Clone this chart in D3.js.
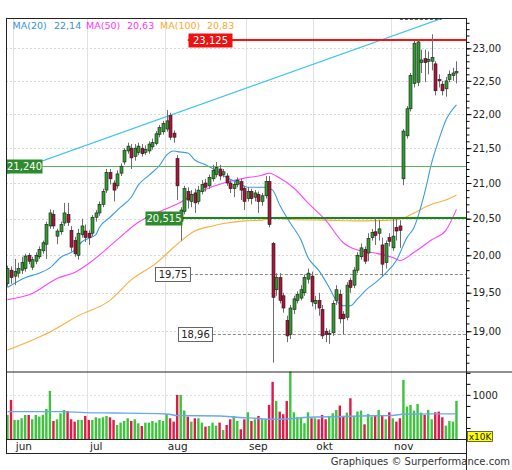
<!DOCTYPE html>
<html><head><meta charset="utf-8">
<script src="https://cdn.jsdelivr.net/npm/d3@7"></script>
<style>body{margin:0;background:#fff}svg{display:block;font-family:"DejaVu Sans",Verdana,sans-serif}</style>
</head><body><svg id="c" width="512" height="470"></svg>
<script>
// ---- data ----
const opens=[19.62,19.80,19.72,19.76,19.80,19.82,20.00,19.84,19.92,19.98,20.06,20.15,20.40,20.56,20.26,20.32,20.44,20.56,20.34,20.20,
20.00,20.28,20.33,20.30,20.30,20.52,20.58,20.70,20.90,21.15,21.00,20.96,21.14,21.30,21.46,21.50,21.38,21.44,21.50,21.44,
21.46,21.52,21.57,21.70,21.74,21.78,21.98,21.72,21.35,20.46,20.60,20.88,20.74,20.86,20.74,20.88,21.00,20.96,21.06,21.12,
21.20,21.12,21.10,21.00,20.92,20.98,21.02,20.92,20.78,20.88,20.80,20.84,20.74,20.82,21.02,20.16,19.54,19.70,19.46,19.14,
18.96,19.28,19.40,19.43,19.50,19.68,19.72,19.36,19.40,19.28,19.00,18.96,18.98,19.40,19.48,19.22,19.18,19.66,19.60,19.80,
19.98,20.08,20.03,20.24,20.32,20.30,20.14,19.90,20.24,20.10,20.38,20.40,21.06,21.68,22.08,22.46,22.48,22.78,22.84,22.80,
22.80,22.76,22.52,22.45,22.38,22.52,22.58,22.62];
const highs=[19.86,19.85,19.95,19.90,19.98,20.02,20.03,19.98,20.04,20.12,20.20,20.46,20.63,20.62,20.36,20.46,20.72,20.72,20.40,20.25,
20.36,20.50,20.42,20.34,20.55,20.62,20.74,20.92,21.20,21.20,21.04,21.18,21.28,21.50,21.58,21.56,21.56,21.58,21.56,21.54,
21.60,21.64,21.75,21.84,21.90,22.06,22.02,21.76,21.40,20.66,20.96,20.94,20.90,20.92,20.96,21.04,21.06,21.12,21.26,21.30,
21.26,21.20,21.14,21.04,21.02,21.08,21.06,20.96,20.94,20.92,20.90,20.88,20.86,21.10,21.10,20.18,19.76,19.76,19.50,19.20,
19.34,19.46,19.52,19.60,19.74,19.82,19.78,19.46,19.50,19.34,19.04,19.02,19.40,19.60,19.54,19.26,19.64,19.70,19.84,20.04,
20.16,20.12,20.30,20.36,20.52,20.48,20.24,20.20,20.30,20.52,20.52,20.48,21.78,22.12,22.62,23.12,23.14,22.98,22.98,22.95,
23.22,22.80,22.60,22.50,22.56,22.66,22.70,22.80];
const lows=[19.58,19.62,19.60,19.70,19.75,19.78,19.88,19.80,19.88,19.95,20.02,19.95,20.36,20.36,20.15,20.28,20.40,20.40,20.05,19.98,
19.94,20.24,20.18,20.14,20.26,20.46,20.54,20.66,20.86,20.98,20.74,20.92,21.10,21.26,21.42,21.20,21.32,21.40,21.38,21.40,
21.42,21.48,21.54,21.66,21.70,21.74,21.62,21.58,20.76,20.20,20.56,20.64,20.66,20.58,20.70,20.84,20.88,20.92,21.02,21.08,
21.04,21.08,20.96,20.86,20.80,20.94,20.76,20.62,20.74,20.70,20.74,20.58,20.68,20.78,20.38,18.60,19.46,19.36,19.24,18.86,
18.90,19.22,19.36,19.40,19.46,19.62,19.32,19.28,19.20,18.90,18.86,18.84,18.94,19.34,19.10,18.96,19.14,19.50,19.56,19.76,
19.94,19.88,19.92,20.20,20.14,20.20,19.72,19.82,20.12,20.06,20.20,20.10,20.97,21.64,22.04,22.40,22.42,22.62,22.48,22.60,
22.66,22.28,22.40,22.28,22.26,22.48,22.50,22.46];
const closes=[19.82,19.70,19.78,19.82,19.90,19.99,19.92,19.94,20.00,20.08,20.17,20.42,20.58,20.40,20.33,20.42,20.58,20.45,20.11,20.02,
20.30,20.40,20.24,20.24,20.52,20.58,20.70,20.88,21.15,21.06,20.90,21.13,21.24,21.47,21.53,21.36,21.50,21.53,21.42,21.48,
21.56,21.58,21.71,21.80,21.86,21.90,21.66,21.66,20.96,20.62,20.92,20.76,20.84,20.72,20.90,20.98,20.94,21.08,21.18,21.22,
21.10,21.16,21.00,20.92,20.98,21.04,20.90,20.74,20.88,20.78,20.86,20.74,20.82,21.02,20.42,19.44,19.70,19.40,19.30,18.94,
19.30,19.42,19.48,19.54,19.70,19.76,19.38,19.40,19.30,18.94,18.96,18.97,19.36,19.54,19.16,19.16,19.60,19.57,19.80,20.00,
20.10,19.92,20.23,20.31,20.27,20.36,19.88,20.16,20.19,20.26,20.33,20.34,21.75,22.08,22.58,23.08,23.10,22.82,22.78,22.83,
22.86,22.35,22.50,22.35,22.50,22.60,22.62,22.64];
const volumes=[545,886,432,432,470,545,545,447,545,508,545,682,1091,409,447,583,659,636,447,394,
432,432,523,432,432,492,470,492,523,492,432,318,371,409,470,409,447,356,295,371,
371,409,371,432,409,561,470,394,1000,1000,644,508,394,470,470,371,280,295,371,303,
371,205,318,447,523,409,220,447,606,409,447,523,447,447,773,1295,864,621,561,864,
1530,606,492,492,356,606,470,470,447,545,447,523,583,659,758,523,598,924,523,621,
644,333,568,508,523,659,523,447,606,470,394,470,1341,735,773,644,795,598,545,659,
447,606,621,492,303,409,394,864];
const ma20=[[0,19.57],[5,19.70],[9,19.76],[12,19.83],[15,19.97],[19,20.07],[21,20.18],[25,20.28],[26,20.38],[29,20.52],[32,20.66],
[35,20.80],[37,20.97],[40,21.11],[43,21.25],[45,21.40],[47,21.46],[48,21.45],[51,21.43],[53,21.33],[56,21.26],[59,21.18],
[62,21.08],[65,21.01],[68,20.94],[71,20.94],[73,20.94],[75,20.90],[77,20.69],[80,20.44],[83,20.21],[85,19.97],[88,19.80],
[91,19.57],[93,19.40],[95,19.33],[97,19.33],[99,19.42],[102,19.56],[104,19.63],[107,19.76],[110,19.93],[113,20.24],
[115,20.38],[118,20.86],[120,21.29],[122,21.62],[124,21.91],[127,22.14]];
const ma50=[[0,19.41],[7,19.49],[14,19.69],[19,19.77],[23,19.89],[31,20.21],[37,20.45],[44,20.62],[49,20.73],[51,20.79],
[57,20.93],[62,21.01],[67,21.07],[72,21.11],[74,21.14],[77,21.07],[81,20.93],[85,20.72],[90,20.48],[95,20.17],[99,20.07],
[104,20.03],[109,19.97],[111,19.93],[115,20.04],[120,20.21],[124,20.34],[127,20.63]];
const ma100=[[0,18.76],[12,18.99],[20,19.20],[29,19.40],[35,19.67],[42,19.89],[48,20.15],[53,20.33],[58,20.40],[62,20.44],
[67,20.47],[72,20.48],[75,20.51],[80,20.49],[90,20.48],[100,20.47],[109,20.48],[112,20.51],[115,20.58],[120,20.70],
[124,20.76],[127,20.83]];
const volMA=[[0,621],[15,621],[22,598],[30,590],[45,568],[48,530],[60,523],[65,492],[70,470],[75,447],[80,460],[85,492],
[95,510],[100,523],[108,530],[112,561],[120,570],[127,570]];
const trend=[[-0.42,21.13],[122.8,23.47]];
const legendNames=["MA(20)","MA(50)","MA(100)"];
const legendValues=["22,14","20,63","20,83"];
const levelValues=[23.125,21.24,20.515,19.75,18.96];
const levelLabels=["23,125","21,240","20,515","19,75","18,96"];
const priceTicks=[19,19.5,20,20.5,21,21.5,22,22.5,23];
const volTicks=[250,500,750,1000,1250,1500];
const months=["jun","jul","aug","sep","okt","nov"];
const monthStart=[2,23,45,68,87,109];

// ---- layout ----
const L=6,R=466,T=18,PB=371.5,VB=439,AB=453;
const svg=d3.select("#c");
const x=d3.scaleLinear().domain([-0.42,129.7]).range([L,R]);
const y=d3.scaleLog().domain([18.49,23.476]).range([PB,T]);
const v=d3.scaleLinear().domain([0,1530]).range([VB,PB]);
const fmt=d=>d3.format(".2f")(d).replace(".",",");

svg.append("defs").append("clipPath").attr("id","pc").append("rect").attr("x",L).attr("y",T).attr("width",R-L).attr("height",PB-T);

// grids
const g=svg.append("g");
g.selectAll(".hg").data(priceTicks).join("line").attr("x1",L).attr("x2",R)
 .attr("y1",d=>Math.round(y(d))+0.5).attr("y2",d=>Math.round(y(d))+0.5)
 .attr("stroke","#d8d8d8").attr("stroke-dasharray","2,2");
g.selectAll(".vg").data(monthStart).join("line")
 .attr("x1",d=>Math.round(x(d-0.5))+0.5).attr("x2",d=>Math.round(x(d-0.5))+0.5)
 .attr("y1",T).attr("y2",VB).attr("stroke","#e2e2e2");
g.append("line").attr("x1",L).attr("x2",R).attr("y1",Math.round(v(1000))+0.5).attr("y2",Math.round(v(1000))+0.5)
 .attr("stroke","#e2e2e2").attr("stroke-dasharray","2,2");

const pg=svg.append("g").attr("clip-path","url(#pc)");

// trend line
pg.append("path").attr("d",d3.line().x(d=>x(d[0])).y(d=>y(d[1]))(trend)).attr("stroke","#3cc4f2").attr("stroke-width",1.1).attr("fill","none");
// top dashed
pg.append("line").attr("x1",x(111)).attr("x2",x(122.8)).attr("y1",19.5).attr("y2",19.5).attr("stroke","#666").attr("stroke-dasharray","3,2");

// level lines
const levStart=[51,-0.42,38.9,41.7,48.2];
const levStyle=[
 {stroke:"#ff1010",w:2,dash:null,fill:"#ee1111",tc:"#fff",bs:"none"},
 {stroke:"#5db35d",w:1,dash:null,fill:"#2d8a2d",tc:"#fff",bs:"none"},
 {stroke:"#168a16",w:2.2,dash:null,fill:"#2d8a2d",tc:"#fff",bs:"none"},
 {stroke:"#888",w:1,dash:"3,2",fill:"#fff",tc:"#222",bs:"#666"},
 {stroke:"#888",w:1,dash:"3,2",fill:"#fff",tc:"#222",bs:"#666"}];
const labW=[44,36,37,35,34];

// MAs
const lineFn=d3.line().x(d=>x(d[0])).y(d=>y(d[1])).curve(d3.curveMonotoneX);
pg.append("path").attr("d",lineFn(ma100)).attr("stroke","#ffad3a").attr("stroke-width",1.1).attr("fill","none");
pg.append("path").attr("d",lineFn(ma50)).attr("stroke","#ff44ff").attr("stroke-width",1.1).attr("fill","none");
pg.append("path").attr("d",lineFn(ma20)).attr("stroke","#3d9be0").attr("stroke-width",1.1).attr("fill","none");

levelValues.forEach((lv,k)=>{
  const s=levStyle[k], yy=Math.round(y(lv))+(s.w===1?0.5:0);
  const sl=pg.append("line").attr("x1",x(levStart[k])).attr("x2",R).attr("y1",yy).attr("y2",yy)
   .attr("stroke",s.stroke).attr("stroke-width",s.w);
  if(s.dash) sl.attr("stroke-dasharray",s.dash);
});

// candles
const idx=d3.range(opens.length);
const cg=pg.append("g");
cg.selectAll(".w").data(idx).join("line")
 .attr("x1",i=>Math.round(x(i))+0.5).attr("x2",i=>Math.round(x(i))+0.5)
 .attr("y1",i=>y(highs[i])).attr("y2",i=>y(lows[i])).attr("stroke","#6e6e6e").attr("stroke-width",1);
cg.selectAll(".b").data(idx).join("rect")
 .attr("x",i=>Math.round(x(i))-1).attr("width",3)
 .attr("y",i=>y(Math.max(opens[i],closes[i])))
 .attr("height",i=>Math.max(1,y(Math.min(opens[i],closes[i]))-y(Math.max(opens[i],closes[i]))))
 .attr("fill",i=>closes[i]>=opens[i]?"#2f9e2f":"#b0123c").attr("stroke","#1a1a1a").attr("stroke-width",0.6);

// level labels
levelValues.forEach((lv,k)=>{
  const s=levStyle[k], yy=y(lv), x0=Math.round(x(levStart[k]));
  const r=svg.append("rect").attr("x",x0+0.5).attr("y",Math.round(yy-7)+0.5).attr("width",labW[k]).attr("height",14)
   .attr("fill",s.fill);
  if(s.bs!=="none") r.attr("stroke",s.bs).attr("stroke-width",1);
  svg.append("text").attr("x",x0+labW[k]/2+0.5).attr("y",yy+4).attr("text-anchor","middle")
   .attr("font-size",10).attr("fill",s.tc).text(levelLabels[k]);
});

// legend
const legColors=["#3a8fdc","#ff33ff","#ffa830"];
const legX=[12.5,54,86,127,160,207];
legendNames.forEach((n,k)=>{
  svg.append("text").attr("x",legX[2*k]).attr("y",29).attr("font-size",9.5).attr("fill",legColors[k]).text(n);
  svg.append("text").attr("x",legX[2*k+1]).attr("y",29).attr("font-size",9.5).attr("fill",legColors[k]).text(legendValues[k]);
});

// volume
const vg=svg.append("g");
vg.selectAll("rect").data(idx).join("rect")
 .attr("x",i=>x(i)-1.2).attr("width",2.4).attr("y",i=>v(Math.min(volumes[i],1530))).attr("height",i=>VB-v(Math.min(volumes[i],1530)))
 .attr("fill",i=>closes[i]>=opens[i]?"#3cc43c":"#e0194a");
vg.append("path").attr("d",d3.line().x(d=>x(d[0])).y(d=>v(d[1])).curve(d3.curveMonotoneX)(volMA))
 .attr("stroke","#6aa8ef").attr("stroke-width",1.4).attr("fill","none");

// frame
const fr=svg.append("g").attr("stroke","#222").attr("stroke-width",1);
fr.append("line").attr("x1",L).attr("x2",R+0.5).attr("y1",T+0.5).attr("y2",T+0.5);
fr.append("line").attr("x1",L+0.5).attr("x2",L+0.5).attr("y1",T).attr("y2",AB+0.5);
fr.append("line").attr("x1",R+0.5).attr("x2",R+0.5).attr("y1",T).attr("y2",470);
fr.append("line").attr("x1",L).attr("x2",512).attr("y1",PB+0.5).attr("y2",PB+0.5);
fr.append("line").attr("x1",L).attr("x2",R).attr("y1",VB+0.5).attr("y2",VB+0.5);
fr.append("line").attr("x1",L).attr("x2",R).attr("y1",AB+0.5).attr("y2",AB+0.5);

// price axis
const minor=d3.range(185,235,1).map(d=>d/10).filter(d=>y(d)>T+1&&y(d)<PB-1);
svg.append("g").attr("transform",`translate(${R+0.5},0)`)
 .call(d3.axisRight(y).tickValues(minor).tickSize(3).tickFormat("").tickSizeOuter(0))
 .call(a=>a.select(".domain").remove());
svg.append("g").attr("transform",`translate(${R+0.5},0)`)
 .call(d3.axisRight(y).tickValues(priceTicks).tickSize(5).tickPadding(1).tickFormat(fmt).tickSizeOuter(0))
 .call(a=>a.select(".domain").remove())
 .call(a=>a.selectAll("text").attr("font-size",10).attr("font-family","DejaVu Sans").attr("fill","#222"));
// volume axis
svg.append("g").attr("transform",`translate(${R+0.5},0)`)
 .call(d3.axisRight(v).tickValues(volTicks).tickSize(4).tickPadding(2).tickFormat(d=>d===1000?"1000":"").tickSizeOuter(0))
 .call(a=>a.select(".domain").remove())
 .call(a=>a.selectAll("text").attr("font-size",10).attr("font-family","DejaVu Sans").attr("fill","#222"));
svg.append("rect").attr("x",467.5).attr("y",431.5).attr("width",25).attr("height",10).attr("fill","#ffff00").attr("stroke","#444").attr("stroke-width",0.8);
svg.append("text").attr("x",480).attr("y",440).attr("text-anchor","middle").attr("font-size",9).attr("fill","#222").text("x10K");

// month labels
svg.selectAll(".ml").data(months).join("text")
 .attr("x",(d,k)=>x(monthStart[k]-0.5)+3).attr("y",450).attr("font-size",10.5).attr("fill","#222").text(d=>d);

// footer
svg.append("text").attr("x",510).attr("y",465).attr("text-anchor","end").attr("font-size",10).attr("fill","#333")
 .text("Graphiques © Surperformance.com");
</script></body></html>
